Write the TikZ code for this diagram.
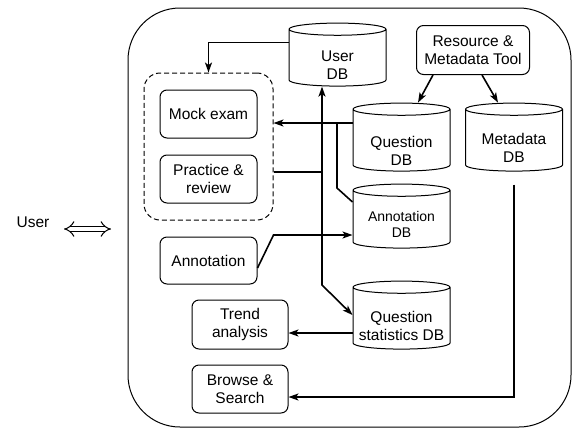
\documentclass[tikz,border=0pt]{standalone}
\usepackage{fontspec}
\setmainfont{Liberation Sans}
\usetikzlibrary{shapes.geometric,arrows.meta}
\begin{document}
\begin{tikzpicture}[x=1pt,y=-1pt,
    font=\fontsize{15.5}{18}\selectfont,
    box/.style={draw,line width=1pt,rounded corners=7pt,align=center,
        minimum width=97pt,minimum height=48pt,inner sep=2pt},
    db/.style={draw,cylinder,shape border rotate=90,shape aspect=0.14,text width=85pt,
        line width=1pt,minimum width=97pt,minimum height=68pt,inner sep=1pt},
    dbtext/.style={align=center,yshift=-7pt},
    arr/.style={line width=1.6pt,-{Stealth[length=10pt,width=7pt,inset=2.5pt]}},
    ln/.style={line width=1.6pt}]
    \useasboundingbox (0,0) rectangle (573,429);
    % system frame
    \node[draw,line width=1pt,rounded corners=52pt,minimum width=443pt,minimum height=419pt] (sys) at (349.5,217.5) {};
    \node (usr) at (33,222) {User};
    \coordinate (ua) at (64,229);
    \coordinate (ub) at (111,229);
    \draw[line width=1pt,double distance=4.5pt,{Implies[length=9pt]}-{Implies[length=9pt]}] (ua) -- (ub);
    % databases
    \node[db,minimum height=63pt,label={[dbtext]center:User\\DB}] (udb) at (337.5,58.5) {};
    \node[db,label={[dbtext,yshift=-3pt]center:Question\\DB}] (qdb) at (401.5,141) {};
    \node[db,label={[dbtext]center:Metadata\\DB}] (mdb) at (514,141) {};
    \node[db,minimum height=64pt,label={[dbtext,yshift=3pt,font=\fontsize{14}{16}\selectfont]center:Annotation\\DB}] (adb) at (401.5,220) {};
    \node[db,label={[dbtext]center:Question\\statistics DB}] (sdb) at (401.5,319) {};
    % tools and views
    \node[box,minimum width=113pt,minimum height=49pt] (res) at (473,50) {Resource \&\\Metadata Tool};
    \node[draw,dashed,dash pattern=on 5pt off 3pt,line width=1pt,rounded corners=16pt,
        minimum width=129pt,minimum height=147pt] (grp) at (208.5,146.5) {};
    \node[box] (mock) at (208.5,114) {Mock exam};
    \node[box] (prac) at (208.5,179) {Practice \&\\review};
    \node[box,minimum height=47pt] (anno) at (208.5,260.5) {Annotation};
    \node[box,minimum width=96pt,minimum height=49pt] (trend) at (240,324.5) {Trend\\analysis};
    \node[box,minimum width=96pt] (brw) at (240,389) {Browse \&\\Search};
    % connections
    \coordinate (bus) at (322,285);
    \coordinate (qj) at (337,123);
    \draw[arr] ([xshift=-40pt]res.south) -- ([xshift=16.5pt]qdb.north);
    \draw[arr] ([xshift=9pt]res.south) -- ([xshift=-16pt]mdb.north);
    \draw[arr] ([yshift=16pt]udb.west) -| (grp.north);
    \draw[arr] ([yshift=18pt]qdb.west) -- ([yshift=18pt]qdb.west -| grp.east);
    \draw[ln] (qj) -- (qj |- 0,188) -- ([yshift=18pt]adb.west);
    \draw[ln,{Stealth[length=10pt,width=7pt,inset=2.5pt]}-{Stealth[length=10pt,width=7pt,inset=2.5pt]}]
        (bus |- udb.south) -- (bus) -- ([yshift=4pt]sdb.west);
    \draw[ln] ([yshift=7pt]prac.east -| grp.east) -- ([yshift=7pt]prac.east -| bus);
    \draw[arr] ([yshift=-7.5pt]anno.east) -- ++(16,-33) -- ([yshift=-15pt]adb.west);
    \draw[arr] ([yshift=-14pt]sdb.west) -- ([yshift=-14pt]sdb.west -| trend.east);
    \draw[arr] ([yshift=-13pt]mdb.south) |- ([yshift=-8pt]brw.east);
\end{tikzpicture}
\end{document}
